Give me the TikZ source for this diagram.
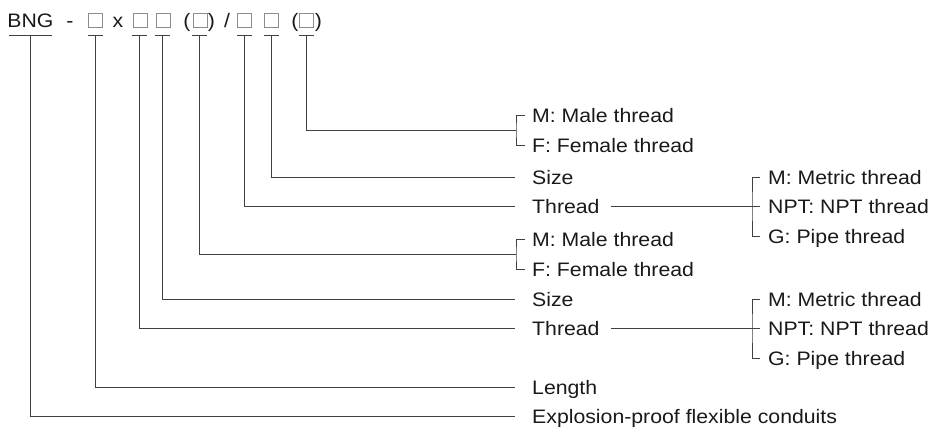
\documentclass[tikz,border=0pt]{standalone}
\usepackage{fontspec}
\setmainfont[FakeStretch=1.09]{Liberation Sans}
\begin{document}
\begin{tikzpicture}[x=1pt,y=-1pt,
  txt/.style={inner sep=0, text height=14, text depth=0, font=\fontsize{19.5}{23}\selectfont, text=black!90},
  lbl/.style={txt, anchor=west},
  sq/.style={draw=black!45, line width=0.9pt, minimum size=14, inner sep=0},
  uln/.style={inner sep=0, minimum height=0, outer sep=0},
  conn/.style={draw=black!75, line width=0.85pt}]
\useasboundingbox (0,0) rectangle (932,437);
% code string
\node[txt] (bng) at (30.5,20) {BNG};
\node[txt] (dash) at (70,20) {-};
\node[sq] (s1) at (95,20) {};
\node[txt] (times) at (118,20) {x};
\node[sq] (s2) at (140,20) {};
\node[sq] (s3) at (163,20) {};
\node[txt] (lp1) at (187,20) {(};
\node[sq] (s4) at (200,20) {};
\node[txt] (rp1) at (211.5,20) {)};
\node[txt] (slash) at (227,20) {/};
\node[sq] (s5) at (244.5,20) {};
\node[sq] (s6) at (271,20) {};
\node[txt] (lp2) at (295,20) {(};
\node[sq] (s7) at (306,20) {};
\node[txt] (rp2) at (318.5,20) {)};
% underlines
\node[uln, minimum width=43] (u0) at (30.5,35) {};
\node[uln, minimum width=15] (u1) at (95,35) {};
\node[uln, minimum width=15] (u2) at (139,35) {};
\node[uln, minimum width=15] (u3) at (162.5,35) {};
\node[uln, minimum width=15] (u4) at (199,35) {};
\node[uln, minimum width=15] (u5) at (244.5,35) {};
\node[uln, minimum width=15] (u6) at (271,35) {};
\node[uln, minimum width=15] (u7) at (306,35) {};
\foreach \u in {u0,u1,u2,u3,u4,u5,u6,u7} \draw[conn] (\u.west) -- (\u.east);
% labels
\node[lbl] (m1) at (532,115) {M: Male thread};
\node[lbl] (f1) at (532,145) {F: Female thread};
\node[lbl] (sz1) at (532,177) {Size};
\node[lbl] (th1) at (532,206) {Thread};
\node[lbl] (m2) at (532,239) {M: Male thread};
\node[lbl] (f2) at (532,269) {F: Female thread};
\node[lbl] (sz2) at (532,299) {Size};
\node[lbl] (th2) at (532,328) {Thread};
\node[lbl] (len) at (532,387) {Length};
\node[lbl] (expl) at (532,416) {Explosion-proof flexible conduits};
\node[lbl] (mt1) at (768,177) {M: Metric thread};
\node[lbl] (np1) at (768,206) {NPT: NPT thread};
\node[lbl] (g1) at (768,236) {G: Pipe thread};
\node[lbl] (mt2) at (768,299) {M: Metric thread};
\node[lbl] (np2) at (768,328) {NPT: NPT thread};
\node[lbl] (g2) at (768,358) {G: Pipe thread};
% bracket points
\coordinate (bk1) at (516,130);
\coordinate (bk2) at (516,254);
\coordinate (bk3) at (752,206);
\coordinate (bk4) at (752,328);
% connectors
\draw[conn] (u7) |- (bk1);
\draw[conn] ([xshift=-7]m1.west) -| (bk1) |- ([xshift=-7]f1.west);
\draw[conn] (u6) |- ([xshift=-17]sz1.west);
\draw[conn] (u5) |- ([xshift=-17]th1.west);
\draw[conn] ([xshift=11]th1.east) -- (bk3);
\draw[conn] ([xshift=-8]mt1.west) -| (bk3) |- ([xshift=-8]g1.west);
\draw[conn] (bk3) -- ([xshift=-8]np1.west);
\draw[conn] (u4) |- (bk2);
\draw[conn] ([xshift=-7]m2.west) -| (bk2) |- ([xshift=-7]f2.west);
\draw[conn] (u3) |- ([xshift=-17]sz2.west);
\draw[conn] (u2) |- ([xshift=-17]th2.west);
\draw[conn] ([xshift=11]th2.east) -- (bk4);
\draw[conn] ([xshift=-8]mt2.west) -| (bk4) |- ([xshift=-8]g2.west);
\draw[conn] (bk4) -- ([xshift=-8]np2.west);
\draw[conn] (u1) |- ([xshift=-17]len.west);
\draw[conn] (u0) |- ([xshift=-17]expl.west);
\end{tikzpicture}
\end{document}
